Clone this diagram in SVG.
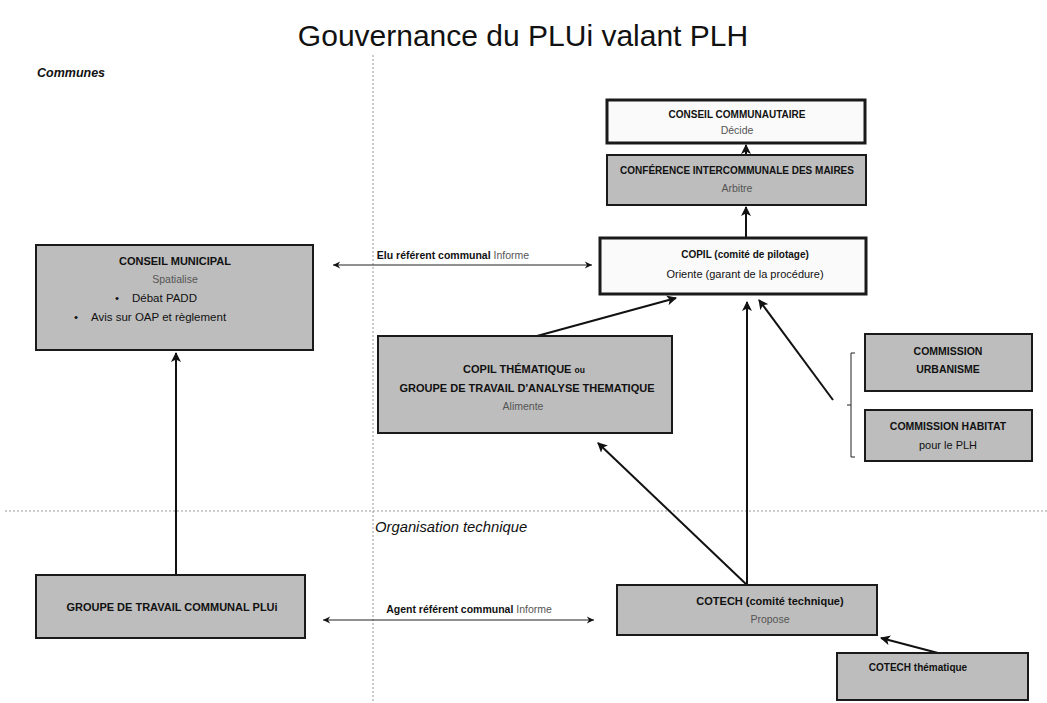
<svg xmlns="http://www.w3.org/2000/svg" width="1047" height="703" viewBox="0 0 1047 703">
<defs>
<marker id="ah" viewBox="0 0 10 10" refX="9" refY="5" markerWidth="5" markerHeight="5" orient="auto" markerUnits="strokeWidth">
<path d="M0,0 L10,5 L0,10 L2.5,5 z" fill="#111"/>
</marker>
<marker id="dbl" viewBox="0 0 10 10" refX="9" refY="5" markerWidth="9" markerHeight="9" orient="auto-start-reverse" markerUnits="userSpaceOnUse">
<path d="M1,1 L9,5 L1,9 L3.5,5 z" fill="#111"/>
</marker>
</defs>
<style>
text{font-family:"Liberation Sans",Arial,sans-serif;fill:#111;text-anchor:middle}
.box{fill:#bdbdbd;stroke:#1a1a1a;stroke-width:2}
.wbox{fill:#fafafa;stroke:#1a1a1a;stroke-width:3}
.h{font-size:10px;font-weight:bold}
.s{font-size:10.5px;fill:#555}
.t{font-size:11px}
.b{font-size:11.5px}
.conn{stroke:#111;stroke-width:2;fill:none;marker-end:url(#ah)}
.dbl{stroke:#222;stroke-width:1;fill:none;marker-start:url(#dbl);marker-end:url(#dbl)}
.sep{stroke:#999;stroke-width:1;stroke-dasharray:2 2;fill:none}
.lab{font-size:10.5px;font-weight:bold}
.lab tspan.n{font-weight:normal;fill:#555}
</style>
<rect width="1047" height="703" fill="#fff"/>
<text x="523" y="46" style="font-size:30px">Gouvernance du PLUi valant PLH</text>
<text x="37" y="77" style="font-size:12.5px;font-weight:bold;font-style:italic;text-anchor:start">Communes</text>
<text x="375" y="532" style="font-size:14.8px;font-style:italic;text-anchor:start">Organisation technique</text>
<g id="separators">
<line class="sep" x1="373" y1="55" x2="373" y2="703"/>
<line class="sep" x1="5" y1="511" x2="1047" y2="511"/>
</g>
<g id="connectors">
<line class="conn" x1="746" y1="155" x2="746" y2="145"/>
<line class="conn" x1="746" y1="238" x2="746" y2="207"/>
<line class="conn" x1="537" y1="336" x2="676" y2="298"/>
<line class="conn" x1="747" y1="585" x2="747" y2="302"/>
<line class="conn" x1="833" y1="400" x2="759" y2="300"/>
<line class="conn" x1="747" y1="585" x2="598" y2="443"/>
<line class="conn" x1="176" y1="575" x2="176" y2="353"/>
<line class="conn" x1="938" y1="653" x2="881" y2="638"/>
<line class="dbl" x1="333" y1="265" x2="592" y2="265"/>
<line class="dbl" x1="323" y1="620" x2="594" y2="620"/>
<path d="M855,353 H851 V457 H855 M851,405 H847" stroke="#222" stroke-width="1" fill="none"/>
<text class="lab" x="453" y="259">Elu référent communal <tspan class="n">Informe</tspan></text>
<text class="lab" x="469" y="613">Agent référent communal <tspan class="n">Informe</tspan></text>
</g>
<g id="conseil-communautaire">
<rect class="wbox" x="607" y="100" width="258" height="43"/>
<text class="h" x="737" y="118">CONSEIL COMMUNAUTAIRE</text>
<text class="s" x="737" y="134">Décide</text>
</g>
<g id="conference-maires">
<rect class="box" x="607" y="155" width="259" height="50"/>
<text class="h" x="737" y="174">CONFÉRENCE INTERCOMMUNALE DES MAIRES</text>
<text class="s" x="737" y="192">Arbitre</text>
</g>
<g id="copil">
<rect class="wbox" x="600" y="238" width="266" height="56"/>
<text class="h" x="745" y="258">COPIL (comité de pilotage)</text>
<text class="t" x="745" y="278">Oriente (garant de la procédure)</text>
</g>
<g id="conseil-municipal">
<rect class="box" x="36" y="245" width="277" height="105"/>
<text class="h" x="175" y="265" style="font-size:11px">CONSEIL MUNICIPAL</text>
<text class="s" x="175" y="283">Spatialise</text>
<text class="b" x="117" y="302">•</text>
<text class="b" x="132" y="302" style="text-anchor:start">Débat PADD</text>
<text class="b" x="76" y="321">•</text>
<text class="b" x="91" y="321" style="text-anchor:start">Avis sur OAP et règlement</text>
</g>
<g id="copil-thematique">
<rect class="box" x="378" y="336" width="294" height="97"/>
<text class="h" x="524" y="373" style="font-size:11px">COPIL THÉMATIQUE <tspan style="font-size:8.5px">ou</tspan></text>
<text class="h" x="527" y="392" style="font-size:11px">GROUPE DE TRAVAIL D'ANALYSE THEMATIQUE</text>
<text class="s" x="523" y="410">Alimente</text>
</g>
<g id="commission-urbanisme">
<rect class="box" x="865" y="334" width="167" height="57"/>
<text class="h" x="948" y="355" style="font-size:10.5px">COMMISSION</text>
<text class="h" x="948" y="373" style="font-size:10.5px">URBANISME</text>
</g>
<g id="commission-habitat">
<rect class="box" x="865" y="410" width="167" height="51"/>
<text class="h" x="948" y="430" style="font-size:10.5px">COMMISSION HABITAT</text>
<text class="t" x="948" y="449">pour le PLH</text>
</g>
<g id="groupe-travail-communal">
<rect class="box" x="36" y="575" width="269" height="63"/>
<text class="h" x="172" y="611" style="font-size:11px">GROUPE DE TRAVAIL COMMUNAL PLUi</text>
</g>
<g id="cotech">
<rect class="box" x="617" y="585" width="260" height="50"/>
<text class="h" x="770" y="605" style="font-size:11px">COTECH (comité technique)</text>
<text class="s" x="770" y="623">Propose</text>
</g>
<g id="cotech-thematique">
<rect class="box" x="837" y="653" width="191" height="47"/>
<text class="h" x="918" y="671">COTECH thématique</text>
</g>
</svg>
